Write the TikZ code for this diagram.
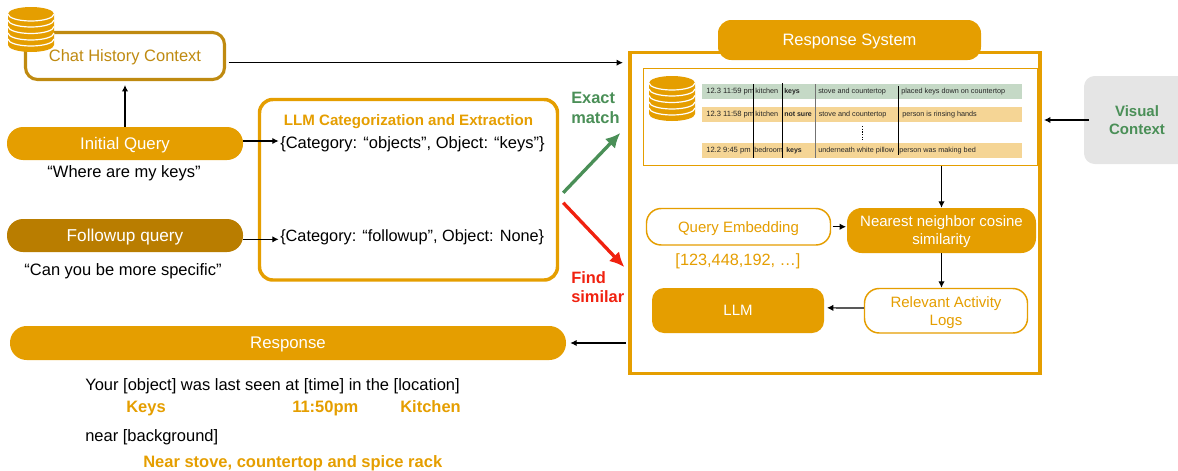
\documentclass[tikz,border=0pt]{standalone}
\usepackage{fontspec}
\setmainfont{Liberation Sans}
\usetikzlibrary{arrows.meta,calc}
\definecolor{org}{HTML}{E59E00}
\definecolor{dorg}{HTML}{B97D00}
\definecolor{chatc}{HTML}{BF8A10}
\definecolor{grn}{HTML}{4A8F57}
\definecolor{redc}{HTML}{F0210F}
\definecolor{rowg}{HTML}{C5D9C6}
\definecolor{rowo}{HTML}{F5D595}
\newcommand{\px}[1]{\fontsize{\dimexpr #1pt*3/4\relax}{\dimexpr #1pt*9/10\relax}\selectfont}
\newcommand{\dbstack}[2]{%
  \begin{scope}[shift={(#1,#2)}]
    \fill[org] (0,7) -- (0,38) arc[start angle=180,end angle=0,x radius=23,y radius=7] -- (46,7) -- cycle;
    \foreach \yy in {13,19.5,26,32}
      \draw[white,line width=0.9] (0,\yy) arc[start angle=180,end angle=0,x radius=23,y radius=7];
    \fill[org] (23,7) ellipse[x radius=23,y radius=7];
    \draw[white,line width=0.9] (0,7) arc[start angle=180,end angle=0,x radius=23,y radius=7];
  \end{scope}}
\tikzset{
  x=0.75pt,y=-0.75pt,
  pill/.style={rounded corners=#1,fill=org,text=white,inner sep=0pt,text depth=0pt,font=\px{16.8}},
  hollow/.style={rounded corners=11pt,draw=org,line width=1.1pt,fill=white,text=org,inner sep=0pt,text depth=0pt,align=center,font=\px{15}},
  blk/.style={inner sep=0pt,text depth=0pt,font=\px{16.5},text=black},
  orgb/.style={inner sep=0pt,text depth=0pt,font=\px{16.5}\bfseries,text=org},
  conn/.style={-{Latex[length=4.8pt,width=4.8pt]},line width=0.9pt,black},
  big/.style={-{Latex[length=11pt,width=10.5pt]},line width=2.5pt},
  cell/.style={inner sep=0pt,text height=4.2pt,text depth=1.2pt,font=\px{7.25},text=black!85,anchor=west},
  cdate/.style={cell,font=\px{7.6}},
  cellb/.style={cell,font=\px{7}\bfseries},
  vbar/.style={line width=0.9pt,black}
}
\begin{document}
\begin{tikzpicture}
\useasboundingbox (0,0) rectangle (1178,471);
\newcommand{\bx}[6]{\node[#1,minimum width=(#5-#3)*0.75pt,minimum height=(#6-#4)*0.75pt] (#2) at ({(#3+#5)/2},{(#4+#6)/2})}

% chat history
\bx{draw=chatc,line width=2.3pt,rounded corners=9pt,fill=white,text=chatc,inner sep=0pt,text depth=0pt,font=\px{16.5}}{chat}{25.5}{32.5}{224.5}{79.5} {Chat History Context};
\dbstack{8}{7}
% queries
\bx{pill=12pt}{init}{7}{127}{243}{160} {Initial Query};
\node[blk] (q1) at (124,172) {“Where are my keys”};
\bx{pill=12pt,fill=dorg,font=\px{17.2}}{follow}{7}{219}{243}{252} {Followup query};
\node[blk] (q2) at (123,270) {“Can you be more specific”};
% LLM categorisation
\bx{draw=org,line width=2.6pt,rounded corners=10pt,fill=white,inner sep=0pt}{cat}{259.5}{99.5}{557.5}{280} {};
\node[orgb,font=\px{15.1}\bfseries] (cattitle) at (408.5,120) {LLM Categorization and Extraction};
\node[blk,anchor=west] (cat1) at (280,143) {\{Category: “objects”, Object: “keys”\}};
\node[blk,anchor=west,font=\px{16.3}] (cat2) at (280,236) {\{Category: “followup”, Object: None\}};
% response
\bx{pill=12.5pt}{resp}{10}{326}{566}{360} {Response};
\node[blk,anchor=west] (t1) at (85,385) {Your [object] was last seen at [time] in the [location]};
\node[orgb,anchor=west] (t2) at (126,407) {Keys};
\node[orgb,anchor=west] (t3) at (292,407) {11:50pm};
\node[orgb,anchor=west] (t4) at (400,407) {Kitchen};
\node[blk,anchor=west] (t5) at (85,436) {near [background]};
\node[orgb,anchor=west] (t6) at (143,461.5) {Near stove, countertop and spice rack};
% labels
\node[inner sep=0pt,align=left,anchor=north west,text=grn,font=\px{16.4}\bfseries] (lex) at (571,92) {Exact\\match};
\node[inner sep=0pt,align=left,anchor=north west,text=redc,font=\px{16.4}\bfseries] (lfi) at (571,271) {Find\\similar};
% main
\bx{draw=org,line width=2.6pt,fill=white,inner sep=0pt}{main}{630}{52.5}{1040}{373.5} {};
\bx{pill=10pt,font=\px{16.5}}{rs}{718}{20}{981}{60} {Response System};
\bx{draw=org,line width=0.8pt,fill=white,inner sep=0pt}{tab}{643.5}{68.5}{1037.5}{165.5} {};
\dbstack{649}{76}
\bx{fill=rowg,inner sep=0pt}{r1}{702}{84}{1022}{99} {};
\bx{fill=rowo,inner sep=0pt}{r2}{702}{107}{1022}{122} {};
\bx{fill=rowo,inner sep=0pt}{r3}{702}{143}{1022}{158} {};
\node[cdate] (a1) at (706,91.5) {12.3 11:59 pm};
\node[cell] (b1) at (755,91.5) {kitchen};
\node[cellb] (c1) at (784,91.5) {keys};
\node[cell] (d1) at (818,91.5) {stove and countertop};
\node[cell] (e1) at (901,91.5) {placed keys down on countertop};
\node[cdate] (a2) at (706,114.5) {12.3 11:58 pm};
\node[cell] (b2) at (755,114.5) {kitchen};
\node[cellb] (c2) at (784,114.5) {not sure};
\node[cell] (d2) at (818.5,114.5) {stove and countertop};
\node[cell] (e2) at (902,114.5) {person is rinsing hands};
\node[cdate] (a3) at (706,150.5) {12.2 9:45 pm};
\node[cell] (b3) at (754,150.5) {bedroom};
\node[cellb] (c3) at (786,150.5) {keys};
\node[cell] (d3) at (818,150.5) {underneath white pillow};
\node[cell] (e3) at (899,150.5) {person was making bed};
\draw[vbar] (753.3,84) -- (753.3,158);
\draw[vbar] (782.3,83) -- (782.3,158);
\draw[vbar,black!55,line width=1.1pt] (815.7,84) -- (815.7,158);
\draw[vbar] (898.3,86) -- (898.3,155);
\draw[line width=1pt,black,dash pattern=on 1pt off 1pt] (862.3,126) -- (862.3,140);
\bx{hollow}{qe}{646.5}{208.5}{830.5}{245} {Query Embedding};
\node[inner sep=0pt,text depth=0pt,text=org,font=\px{16.3}] (vec) at (738,260) {[123,448,192, …]};
\bx{pill=11pt,align=center,font=\px{15}}{nn}{847}{208}{1036}{253} {Nearest neighbor cosine\\similarity};
\bx{pill=9pt,font=\px{15}}{llm}{652}{288}{824}{333} {LLM};
\bx{hollow}{ral}{864.5}{288.5}{1027.5}{333} {Relevant Activity\\Logs};
\bx{fill=black!10,rounded corners=8pt,inner sep=0pt,text=grn,align=center,font=\px{15}\bfseries}{vis}{1084}{76}{1190}{164} {Visual\\Context};
% connectors
\draw[conn] (init.north) -- ([yshift=-3pt]chat.south);
\draw[conn] ([xshift=2pt,yshift=-5pt]chat.east) -- ([xshift=-4pt,yshift=-5pt]chat.east -| main.west);
\coordinate (cat1in) at ([xshift=-1pt,yshift=1.5pt]cat1.west);
\draw[conn] (init.east |- cat1in) -- (cat1in);
\coordinate (cat2in) at ([xshift=-1pt,yshift=-2.5pt]cat2.west);
\draw[conn] (follow.east |- cat2in) -- (cat2in);
\draw[big,grn] ([shift={(4,3)}]cat.east) -- ([shift={(-8,-80)}]main.west);
\draw[big,redc] ([shift={(4,13)}]cat.east) -- ([shift={(-4,54)}]main.west);
\draw[conn] ([xshift=-2pt]main.west |- resp.east) -- ([xshift=3pt]resp.east);
\coordinate (visend) at (1044,120);
\draw[conn] ([xshift=4pt]vis.west |- visend) -- (visend);
\draw[conn] (nn.north |- tab.south) -- (nn.north);
\draw[conn] ([xshift=1pt]qe.east) -- ([xshift=-0.5pt]nn.west |- qe.east);
\draw[conn] (nn.south) -- (nn.south |- ral.north);
\draw[conn] ([yshift=2pt]ral.west) -- ([xshift=2pt,yshift=2pt]llm.east);
\end{tikzpicture}
\end{document}
